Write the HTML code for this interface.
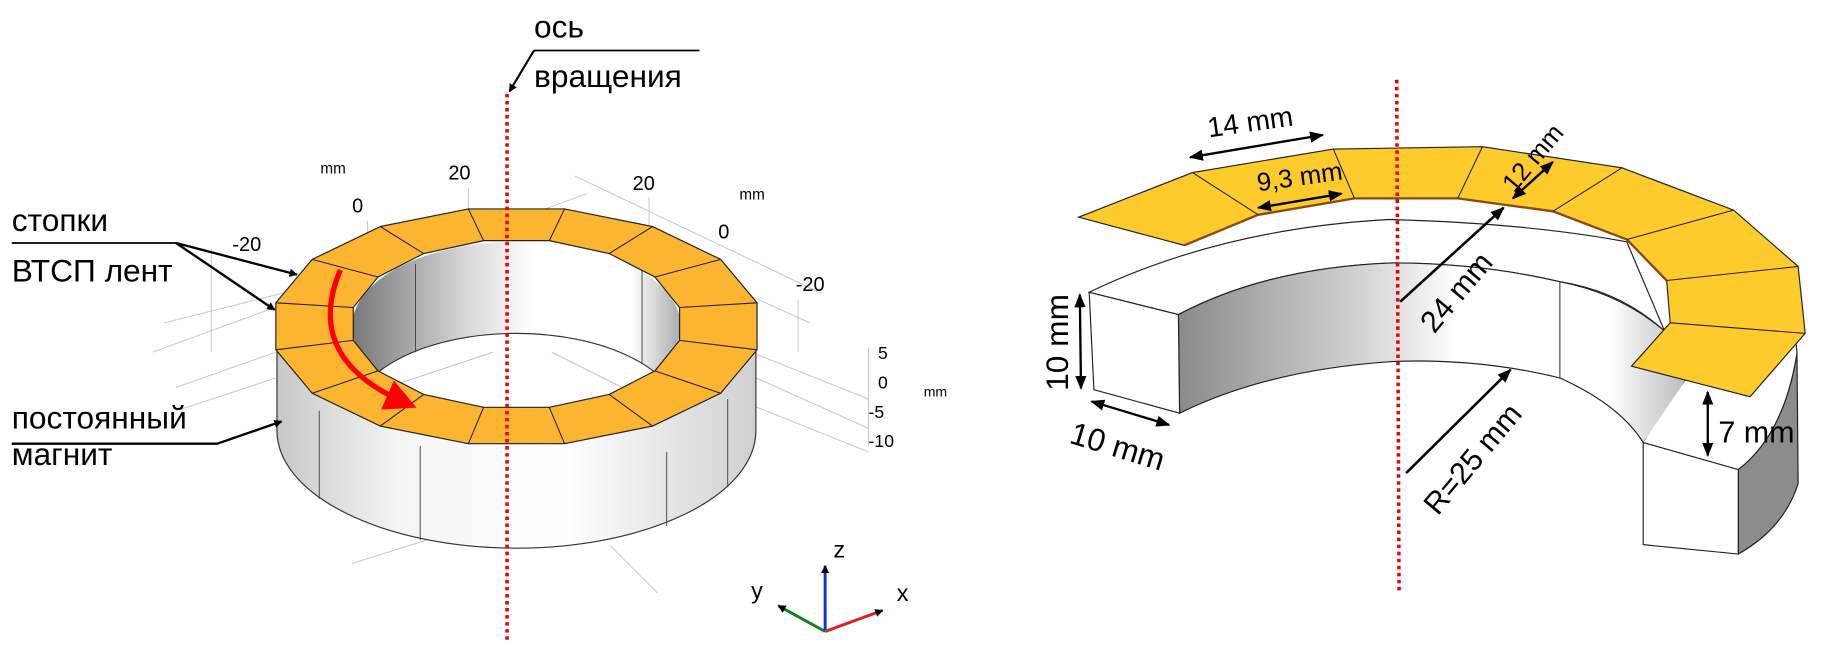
<!DOCTYPE html>
<html><head><meta charset="utf-8"><style>
html,body{margin:0;padding:0;background:#fff;}
svg{display:block;}
text{font-family:"Liberation Sans","DejaVu Sans",sans-serif;fill:#000;}
</style></head><body>
<svg width="1831" height="645" viewBox="0 0 1560 549.5" preserveAspectRatio="none" xmlns="http://www.w3.org/2000/svg">
<defs>
<marker id="ah" viewBox="0 0 10 10" refX="9" refY="5" markerWidth="7" markerHeight="7" orient="auto-start-reverse" markerUnits="userSpaceOnUse"><path d="M0,0 L10,5 L0,10 z" fill="#000"/></marker>
<marker id="ah2" viewBox="0 0 10 10" refX="9" refY="5" markerWidth="12" markerHeight="12" orient="auto-start-reverse" markerUnits="userSpaceOnUse"><path d="M0,1 L10,5 L0,9 z" fill="#000"/></marker>
<marker id="ahr" viewBox="0 0 10 10" refX="6" refY="5" markerWidth="6" markerHeight="6" orient="auto"><path d="M0,0 L10,5 L0,10 z" fill="#f00"/></marker>
<linearGradient id="side" x1="0" x2="1" y1="0" y2="0"><stop offset="0" stop-color="#c8c8c8"/><stop offset="0.25" stop-color="#f4f4f4"/><stop offset="0.6" stop-color="#fff"/><stop offset="1" stop-color="#d0d0d0"/></linearGradient>
<linearGradient id="inw" x1="0" x2="1" y1="0" y2="0"><stop offset="0" stop-color="#777"/><stop offset="0.35" stop-color="#d8d8d8"/><stop offset="0.55" stop-color="#fff"/><stop offset="0.85" stop-color="#fff"/><stop offset="1" stop-color="#aaa"/></linearGradient>
<linearGradient id="inw2" x1="0" x2="1" y1="0" y2="0"><stop offset="0" stop-color="#8a8a8a"/><stop offset="0.45" stop-color="#e6e6e6"/><stop offset="0.55" stop-color="#fff"/><stop offset="0.85" stop-color="#fff"/><stop offset="1" stop-color="#bbb"/></linearGradient>
<clipPath id="hole"><polygon points="579,290 558,316 519,336 468,347 412,347 361,336 322,316 301,290 301,262 322,236 361,216 412,205 468,205 519,216 558,236 579,262"/></clipPath>
</defs>

<!-- grid lines left -->
<g stroke="#c4c4c4" stroke-width="0.8" fill="none">
<line x1="180" y1="212" x2="180" y2="300"/>
<line x1="313" y1="188" x2="313" y2="230"/>
<line x1="399" y1="160" x2="399" y2="180"/>
<line x1="553" y1="168" x2="553" y2="195"/>
<line x1="680" y1="255" x2="680" y2="300"/>
<line x1="130" y1="300" x2="500" y2="165"/>
<line x1="140" y1="275" x2="500" y2="185"/>
<line x1="150" y1="330" x2="235" y2="300"/>
<line x1="150" y1="350" x2="235" y2="322"/>
<line x1="490" y1="150" x2="700" y2="250"/>
<line x1="490" y1="185" x2="690" y2="275"/>
<line x1="640" y1="300" x2="740" y2="340"/>
<line x1="640" y1="320" x2="740" y2="365"/>
<line x1="640" y1="345" x2="740" y2="385"/>
<line x1="300" y1="480" x2="380" y2="455"/>
<line x1="520" y1="465" x2="560" y2="505"/>
<line x1="740" y1="296" x2="740" y2="380"/>
</g>

<!-- left magnet -->
<path d="M236,290 L236,367 A204,100 0 0 0 644,367 L644,290 Z" fill="url(#side)" stroke="#333" stroke-width="1"/>
<g stroke="#444" stroke-width="0.8">
<line x1="272" y1="350" x2="272" y2="425"/><line x1="358" y1="380" x2="358" y2="460"/>
<line x1="568" y1="385" x2="568" y2="448"/><line x1="620" y1="340" x2="620" y2="415"/>
</g>
<!-- hole -->
<g clip-path="url(#hole)">
<rect x="290" y="200" width="300" height="160" fill="#fff"/>
<ellipse cx="440" cy="278" rx="140" ry="72" fill="url(#inw)"/>
<ellipse cx="440" cy="356" rx="140" ry="72" fill="#fff" stroke="#333" stroke-width="1"/>
<line x1="354" y1="225" x2="354" y2="300" stroke="#444" stroke-width="0.8"/>
<line x1="547" y1="225" x2="547" y2="310" stroke="#444" stroke-width="0.8"/>
<line x1="330" y1="330" x2="420" y2="300" stroke="#bbb" stroke-width="0.8"/>
<line x1="470" y1="300" x2="560" y2="345" stroke="#bbb" stroke-width="0.8"/>
</g>
<!-- orange ring -->
<path fill-rule="evenodd" fill="#fbb531" stroke="#222" stroke-width="1" d="M645,298 L614,335 L556,363 L481,378 L399,378 L324,363 L266,335 L235,298 L235,258 L266,221 L324,193 L399,178 L481,178 L556,193 L614,221 L645,258 Z M579,290 L558,316 L519,336 L468,347 L412,347 L361,336 L322,316 L301,290 L301,262 L322,236 L361,216 L412,205 L468,205 L519,216 L558,236 L579,262 Z"/>
<g stroke="#222" stroke-width="0.9">
<line x1="645" y1="298" x2="579" y2="290"/><line x1="614" y1="335" x2="558" y2="316"/><line x1="556" y1="363" x2="519" y2="336"/><line x1="481" y1="378" x2="468" y2="347"/><line x1="399" y1="378" x2="412" y2="347"/><line x1="324" y1="363" x2="361" y2="336"/><line x1="266" y1="335" x2="322" y2="316"/><line x1="235" y1="298" x2="301" y2="290"/><line x1="235" y1="258" x2="301" y2="262"/><line x1="266" y1="221" x2="322" y2="236"/><line x1="324" y1="193" x2="361" y2="216"/><line x1="399" y1="178" x2="412" y2="205"/><line x1="481" y1="178" x2="468" y2="205"/><line x1="556" y1="193" x2="519" y2="216"/><line x1="614" y1="221" x2="558" y2="236"/><line x1="645" y1="258" x2="579" y2="262"/>
</g>
<!-- red arrow -->
<path d="M290,230 Q258,305 345,343" fill="none" stroke="#f00" stroke-width="4.5" marker-end="url(#ahr)"/>
<!-- axis line -->
<line x1="432" y1="80" x2="432" y2="546" stroke="#e00" stroke-width="3" stroke-dasharray="3,3"/>

<!-- tick labels -->
<text x="273" y="148" font-size="13">mm</text>
<text x="300" y="181" font-size="17">0</text>
<text x="382" y="153" font-size="17">20</text>
<text x="198" y="214" font-size="17">-20</text>
<text x="539" y="162" font-size="17">20</text>
<text x="630" y="170" font-size="13">mm</text>
<text x="612" y="203" font-size="17">0</text>
<text x="678" y="248" font-size="17">-20</text>
<text x="748" y="306" font-size="15">5</text>
<text x="748" y="331" font-size="15">0</text>
<text x="740" y="356" font-size="15">-5</text>
<text x="740" y="381" font-size="15">-10</text>
<text x="787" y="338" font-size="12">mm</text>

<!-- labels left -->
<text x="455" y="32" font-size="27">ось</text>
<text x="455" y="74" font-size="27">вращения</text>
<line x1="455" y1="43" x2="596" y2="43" stroke="#000" stroke-width="1.5"/>
<line x1="455" y1="43" x2="434" y2="78" stroke="#000" stroke-width="1.8" marker-end="url(#ah)"/>
<text x="10" y="197" font-size="27">стопки</text>
<text x="10" y="240" font-size="27">ВТСП лент</text>
<polyline points="10,207 150,207" stroke="#000" stroke-width="1.5" fill="none"/>
<line x1="150" y1="207" x2="253" y2="234" stroke="#000" stroke-width="2" marker-end="url(#ah)"/>
<line x1="150" y1="207" x2="234" y2="264" stroke="#000" stroke-width="2" marker-end="url(#ah)"/>
<text x="10" y="365" font-size="27">постоянный</text>
<text x="10" y="396" font-size="27">магнит</text>
<polyline points="10,378 185,378 240,359" stroke="#000" stroke-width="2" fill="none" marker-end="url(#ah)"/>

<!-- triad -->
<line x1="703" y1="538" x2="703" y2="482" stroke="#1030e0" stroke-width="2.5" marker-end="url(#ah)"/>
<line x1="703" y1="538" x2="663" y2="516" stroke="#108020" stroke-width="2.5" marker-end="url(#ah)"/>
<line x1="703" y1="538" x2="752" y2="520" stroke="#e02020" stroke-width="2.5" marker-end="url(#ah)"/>
<text x="710" y="475" font-size="20">z</text>
<text x="640" y="510" font-size="20">y</text>
<text x="764" y="512" font-size="20">x</text>

<!-- RIGHT FIGURE -->
<!-- magnet top face -->
<path d="M928,249 Q1040,195 1183,187 Q1300,190 1386,206 L1436,324 Q1425,300 1417,281 Q1380,248 1329,240 Q1260,224 1186,224 Q1080,228 1004,268 Z" fill="#fff" stroke="#222" stroke-width="1"/>
<!-- inner wall -->
<path d="M1004,268 Q1080,228 1186,224 Q1260,224 1329,240 Q1380,250 1417,281 Q1440,300 1436,324 Q1425,345 1412,362 L1400,377 Q1380,345 1329,322 Q1260,305 1186,308 Q1080,315 1005,352 Z" fill="url(#inw2)" stroke="#222" stroke-width="1"/>
<line x1="1329" y1="240" x2="1329" y2="322" stroke="#333" stroke-width="0.9"/>
<!-- left box face -->
<polygon points="928,249 1004,268 1005,352 932,332" fill="#fff" stroke="#222" stroke-width="1"/>
<!-- right end -->
<path d="M1481,400 Q1520,370 1531,301 L1532,412 Q1520,450 1481,472 Z" fill="#8c8c8c" stroke="#222" stroke-width="1"/>
<path d="M1400,377 L1481,400 Q1520,370 1531,301 Q1520,270 1500,250 L1436,324 Z" fill="#fff"/>
<path d="M1481,400 Q1520,370 1531,301 Q1530,280 1520,268" fill="none" stroke="#222" stroke-width="1"/>
<polygon points="1400,377 1481,400 1481,472 1400,464" fill="#fff" stroke="#222" stroke-width="1"/>
<!-- orange strip -->
<polygon points="919,185 1016,147 1136,127 1263,125 1382,143 1477,179 1532,227 1538,284 1491,338 1390,312 1423,275 1420,239 1386,204 1323,180 1242,169 1154,169 1072,183 1009,209" fill="#fecb2c" stroke="#222" stroke-width="1"/>
<polyline points="1009,209 1072,183 1154,169 1242,169 1323,180 1386,204 1420,239" fill="none" stroke="#8a4a10" stroke-width="2"/>
<g stroke="#222" stroke-width="0.9">
<line x1="1016" y1="147" x2="1072" y2="183"/><line x1="1136" y1="127" x2="1154" y2="169"/><line x1="1263" y1="125" x2="1242" y2="169"/><line x1="1382" y1="143" x2="1323" y2="180"/><line x1="1477" y1="179" x2="1386" y2="204"/><line x1="1532" y1="227" x2="1420" y2="239"/><line x1="1538" y1="284" x2="1423" y2="275"/>
</g>
<line x1="1190" y1="68" x2="1192" y2="506" stroke="#e00" stroke-width="3" stroke-dasharray="3,3"/>

<!-- dimensions -->
<line x1="1014" y1="134" x2="1127" y2="115" stroke="#000" stroke-width="2" marker-start="url(#ah2)" marker-end="url(#ah2)"/>
<text x="1030" y="117" font-size="24" transform="rotate(-8 1030 117)">14 mm</text>
<line x1="1072" y1="177" x2="1143" y2="165" stroke="#000" stroke-width="2" marker-start="url(#ah2)" marker-end="url(#ah2)"/>
<text x="1072" y="163" font-size="22" transform="rotate(-8 1072 163)">9,3 mm</text>
<line x1="1289" y1="169" x2="1323" y2="138" stroke="#000" stroke-width="2" marker-start="url(#ah2)" marker-end="url(#ah2)"/>
<text x="1290" y="165" font-size="22" transform="rotate(-50 1290 165)">12 mm</text>
<line x1="1193" y1="257" x2="1281" y2="177" stroke="#000" stroke-width="2.2" marker-end="url(#ah2)"/>
<text x="1222" y="285" font-size="26" transform="rotate(-50 1222 285)">24 mm</text>
<line x1="1198" y1="403" x2="1287" y2="315" stroke="#000" stroke-width="2.2" marker-end="url(#ah2)"/>
<text x="1225" y="440" font-size="26" transform="rotate(-50 1225 440)">R=25 mm</text>
<line x1="1455" y1="334" x2="1455" y2="388" stroke="#000" stroke-width="2" marker-start="url(#ah2)" marker-end="url(#ah2)"/>
<text x="1464" y="377" font-size="26">7 mm</text>
<line x1="920" y1="251" x2="921" y2="331" stroke="#000" stroke-width="2" marker-start="url(#ah2)" marker-end="url(#ah2)"/>
<text x="910" y="333" font-size="27" transform="rotate(-90 910 333)">10 mm</text>
<line x1="930" y1="342" x2="996" y2="362" stroke="#000" stroke-width="2" marker-start="url(#ah2)" marker-end="url(#ah2)"/>
<text x="910" y="377" font-size="27" transform="rotate(17 910 377)">10 mm</text>
</svg>
</body></html>
